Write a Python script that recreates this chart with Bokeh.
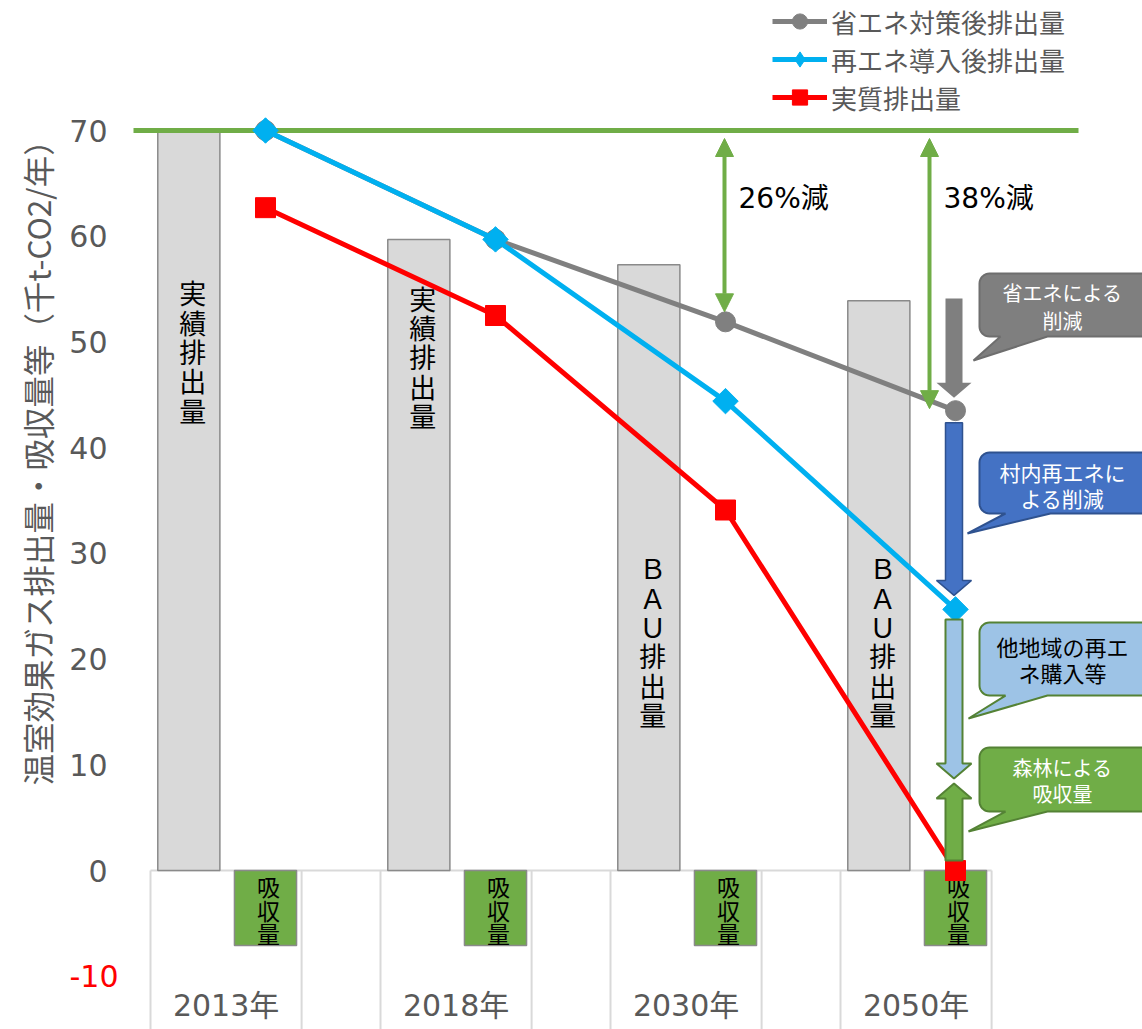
import math

from bokeh.core.properties import value
from bokeh.embed import file_html
from bokeh.models import (Arrow, FixedTicker, Legend, LegendItem, LinearAxis,
                          NormalHead, Range1d, Title)
from bokeh.plotting import figure
from bokeh.resources import INLINE

# ---- data (千t-CO2/年) ----
years = ["2013年", "2018年", "2030年", "2050年"]
bau = [70.0, 59.7, 57.3, 53.9]                  # 実績 / BAU 排出量
bau_labels = ["実績排出量", "実績排出量", "ＢＡＵ排出量", "ＢＡＵ排出量"]
absorption = [-7.1, -7.1, -7.1, -7.1]           # 森林吸収量
after_saving = [70.0, 59.7, 51.9, 43.5]         # 省エネ対策後排出量
after_renew = [70.0, 59.7, 44.4, 24.7]          # 再エネ導入後排出量
net_emission = [62.7, 52.5, 34.1, 0.0]          # 実質排出量
y_ticks = [0, 10, 20, 30, 40, 50, 60, 70]
y_neg_ticks = [-10]

JP = "Noto Sans CJK JP"
NUM = "DejaVu Sans, Noto Sans CJK JP"
GREEN = "#70AD47"
DKGREEN = "#548235"
GRAY_TXT = "#595959"

# ---- canvas geometry ----
W, H = 1142, 1029
LEFT = 130
PX_X = 230.0              # pixels per category
PX_Y = 740.0 / 70.0       # pixels per 千t
x_lo = -(265 - LEFT) / PX_X
x_hi = x_lo + (W - LEFT) / PX_X
y_hi = 70 + 130 / PX_Y
y_lo = y_hi - H / PX_Y


def dx(px):
    return px / PX_X


def dy(px):
    return px / PX_Y


idx = list(range(len(years)))

p = figure(width=W, height=H, output_backend="svg", toolbar_location=None,
           x_range=Range1d(x_lo, x_hi), y_range=Range1d(y_lo, y_hi),
           x_axis_location=None, y_axis_location=None,
           min_border_left=LEFT, min_border_right=0,
           min_border_top=0, min_border_bottom=0)
p.grid.visible = False
p.outline_line_color = None
p.background_fill_color = "white"


def y_axis(ticks, color, standoff):
    a = LinearAxis(ticker=FixedTicker(ticks=ticks))
    a.axis_line_color = None
    a.major_tick_line_color = None
    a.minor_tick_line_color = None
    a.major_tick_out = 0
    a.major_tick_in = 0
    a.major_label_standoff = standoff
    a.major_label_text_font = "DejaVu Sans"
    a.major_label_text_font_size = "30px"
    a.major_label_text_color = color
    a.major_label_overrides = {t: str(t) for t in ticks}
    return a


# negative tick (red) sits next to the frame, positive ticks just outside it
p.add_layout(y_axis(y_neg_ticks, "#FF0000", 12), "left")
p.add_layout(y_axis(y_ticks, GRAY_TXT, -41), "left")
p.add_layout(Title(text="温室効果ガス排出量・吸収量等（千t-CO2/年）",
                   align="left", offset=244, standoff=14,
                   text_font=JP, text_font_size="31.5px",
                   text_font_style="normal", text_color=GRAY_TXT), "left")

# ---- category cells below the zero line ----
cell_l, cell_r = -0.5, 0.157
vx, vy = [], []
for i in idx:
    for off in (cell_l, cell_r):
        vx.append([i + off, i + off])
        vy.append([0, y_lo])
p.multi_line(vx, vy, line_color="#D9D9D9", line_width=2)
p.line([cell_l, idx[-1] + cell_r], [0, 0], line_color="#D9D9D9", line_width=2)
p.text(x=[i + (cell_l + cell_r) / 2 for i in idx], y=[y_lo + dy(24)] * 4,
       text=years, text_font=value(NUM), text_font_size="30px",
       text_color=GRAY_TXT, text_align="center", text_baseline="middle")

# ---- bars ----
bar_w = 0.27
p.vbar(x=[i - 1 / 3 for i in idx], width=bar_w, top=bau, bottom=0,
       fill_color="#D9D9D9", line_color="#8A8A8A", line_width=1.5)
p.vbar(x=idx, width=bar_w, top=0, bottom=absorption,
       fill_color=GREEN, line_color="#8A8A8A", line_width=1.5)


def stacked_chars(xc, yc, word, step):
    """Upright vertical writing: one glyph per character, centred on yc."""
    n = len(word)
    xs = [xc] * n
    ys = [yc + (n - 1) / 2 * step - k * step for k in range(n)]
    return xs, ys, list(word)


tx, ty, tt = [], [], []
bar_text_y = [49.1, 48.6, 21.7, 21.7]
for i in idx:
    xs, ys, cs = stacked_chars(i - 1 / 3 + dx(4), bar_text_y[i], bau_labels[i], dy(29.3))
    tx += xs; ty += ys; tt += cs
p.text(x=tx, y=ty, text=tt, text_font=value(JP), text_font_size="27px",
       text_color="black", text_align="center", text_baseline="middle")

tx, ty, tt = [], [], []
for i in idx:
    xs, ys, cs = stacked_chars(i + dx(3), absorption[i] / 2 - 0.15, "吸収量", dy(23.5))
    tx += xs; ty += ys; tt += cs
p.text(x=tx, y=ty, text=tt, text_font=value(JP), text_font_size="23px",
       text_color="black", text_align="center", text_baseline="middle")

# ---- 2013 reference level and reduction arrows ----
base = bau[0]
p.line([x_lo + dx(3), 3 + dx(123)], [base, base], line_color=GREEN, line_width=5)

for i, xoff, gap in ((2, -dx(1), dy(10)), (3, -dx(26), dy(2))):
    head_a = NormalHead(size=18, fill_color=GREEN, line_color=GREEN)
    head_b = NormalHead(size=18, fill_color=GREEN, line_color=GREEN)
    p.add_layout(Arrow(x_start=i + xoff, y_start=after_saving[i] + gap,
                       x_end=i + xoff, y_end=base - dy(8),
                       start=head_a, end=head_b,
                       line_color=GREEN, line_width=4))
    pct = round((base - after_saving[i]) / base * 100)
    p.text(x=[i + xoff + dx(14)], y=[63.6], text=[f"{pct}%減"],
           text_font=value(NUM), text_font_size="28px", text_color="black",
           text_align="left", text_baseline="middle")

# ---- series lines ----
r_gray_l = p.line(idx, after_saving, line_color="#808080", line_width=5)
r_gray_m = p.scatter(idx, after_saving, marker="circle", size=20,
                     fill_color="#808080", line_color="#808080")
r_blue_l = p.line(idx, after_renew, line_color="#00B0F0", line_width=5)
p.scatter(idx, after_renew, marker="square", angle=math.pi / 4,
          size=18, fill_color="#00B0F0", line_color="#00B0F0")
r_blue_key = p.scatter([math.nan], [math.nan], marker="diamond", size=20,
                       fill_color="#00B0F0", line_color="#00B0F0")
r_red_l = p.line(idx, net_emission, line_color="#FF0000", line_width=5)
r_red_m = p.scatter(idx, net_emission, marker="square", size=20,
                    fill_color="#FF0000", line_color="#FF0000")

# ---- block arrows breaking down the 2050 reduction ----
hw, hh, hl = dx(8.5), dx(17.5), dy(15)


def block_arrow(xc, y_from, y_tip):
    s = 1 if y_tip > y_from else -1
    neck = y_tip - s * hl
    return ([xc - hw, xc + hw, xc + hw, xc + hh, xc, xc - hh, xc - hw],
            [y_from, y_from, neck, neck, y_tip, neck, neck])


last = idx[-1]
ax_x = last - dx(1.5)
xs, ys = block_arrow(ax_x, bau[last] + 0.2, after_saving[last] + dy(13))
p.patch(xs, ys, fill_color="#7F7F7F", line_color=None)
xs, ys = block_arrow(ax_x, after_saving[last] - dy(12), after_renew[last] + dy(14))
p.patch(xs, ys, fill_color="#4472C4", line_color="#2F528F", line_width=1.5)
xs, ys = block_arrow(ax_x, after_renew[last] - dy(10), -absorption[last] + dy(17))
p.patch(xs, ys, fill_color="#9DC3E6", line_color=DKGREEN, line_width=2)
xs, ys = block_arrow(ax_x, net_emission[last] + dy(10), -absorption[last] + dy(12))
p.patch(xs, ys, fill_color=GREEN, line_color=DKGREEN, line_width=2)


# ---- callouts ----
def callout(xl, xr, yt, yb, ta, tb, tip, r=10):
    rx, ry = dx(r), dy(r)
    px_, py_ = [], []

    def arc(cx, cy, a0, a1):
        for k in range(9):
            t = math.radians(a0 + (a1 - a0) * k / 8)
            px_.append(cx + rx * math.cos(t))
            py_.append(cy + ry * math.sin(t))

    arc(xl + rx, yt - ry, 180, 90)
    arc(xr - rx, yt - ry, 90, 0)
    arc(xr - rx, yb + ry, 0, -90)
    px_ += [tb, tip[0], ta]
    py_ += [yb, tip[1], yb]
    arc(xl + rx, yb + ry, -90, -180)
    return px_, py_


cx0 = last
bubbles = [
    # top, bottom, tail base (px), tip, fill, outline, lines, text colour, size, line ys
    (56.47, 50.51, 45, 92, (18, 48.24), "#7F7F7F", "#6E6E6E",
     ["省エネによる", "削減"], "white", "20px", (54.68, 52.03)),
    (39.54, 33.77, 50, 95, (12, 31.88), "#4472C4", "#2F528F",
     ["村内再エネに", "よる削減"], "white", "21px", (37.65, 35.19)),
    (23.46, 16.55, 50, 92, (13, 14.38), "#9DC3E6", DKGREEN,
     ["他地域の再エ", "ネ購入等"], "black", "22px", (21.28, 18.73)),
    (11.64, 5.58, 50, 92, (13, 3.69), GREEN, DKGREEN,
     ["森林による", "吸収量"], "white", "20px", (9.74, 7.28)),
]
for top, bot, ta, tb, tip, fc, lc, lines, tc, fs, lys in bubbles:
    bx, by = callout(cx0 + dx(24), cx0 + dx(220), top, bot,
                     cx0 + dx(ta), cx0 + dx(tb), (cx0 + dx(tip[0]), tip[1]))
    p.patch(bx, by, fill_color=fc, line_color=lc, line_width=2)
    p.text(x=[cx0 + dx(107)] * 2, y=list(lys), text=lines, text_font=value(JP),
           text_font_size=fs, text_color=tc,
           text_align="center", text_baseline="middle")

# ---- legend ----
legend = Legend(items=[
    LegendItem(label="省エネ対策後排出量", renderers=[r_gray_l, r_gray_m]),
    LegendItem(label="再エネ導入後排出量", renderers=[r_blue_l, r_blue_key]),
    LegendItem(label="実質排出量", renderers=[r_red_l, r_red_m]),
], location=(772 - LEFT, H - 116), glyph_width=55, glyph_height=38,
    spacing=0, padding=0, margin=0, label_standoff=4,
    label_text_font=JP, label_text_font_size="26px",
    label_text_color=GRAY_TXT, border_line_color=None,
    background_fill_alpha=0)
p.add_layout(legend)

open("out.html", "w").write(file_html(p, INLINE))
